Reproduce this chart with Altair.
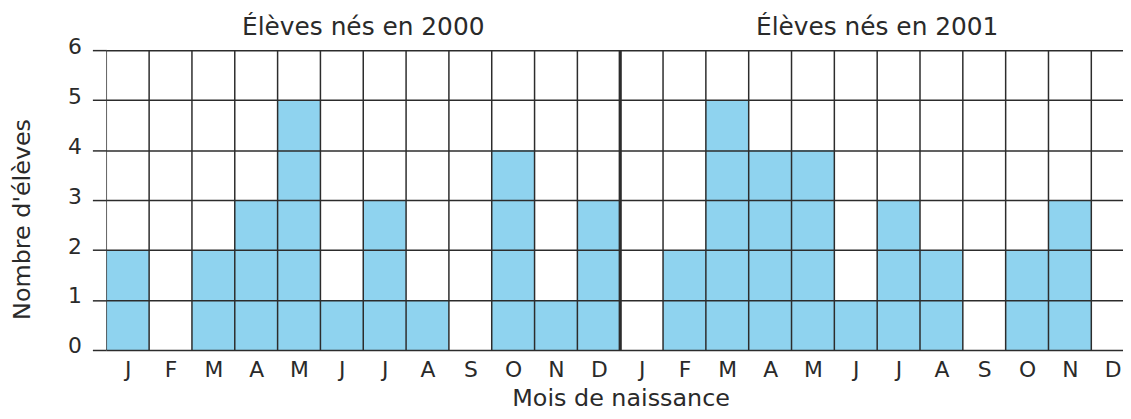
import json
import altair as alt
import pandas as pd

months = ["J", "F", "M", "A", "M", "J", "J", "A", "S", "O", "N", "D"]
years = ["2000", "2001"]
counts_2000 = [2, 0, 2, 3, 5, 1, 3, 1, 0, 4, 1, 3]
counts_2001 = [0, 2, 5, 4, 4, 1, 3, 2, 0, 2, 3, 0]
y_ticks = [0, 1, 2, 3, 4, 5, 6]

FONT = "DejaVu Sans"
TXT = "#2a2a2a"
GRID = "#2c2c2c"
BLUE = "#8fd3ef"

values = counts_2000 + counts_2001
n = len(values)
bars = pd.DataFrame({
    "i": list(range(n)),
    "i2": [k + 1 for k in range(n)],
    "v": values,
})
bounds = pd.DataFrame({"b": list(range(n + 1))})
heads = pd.DataFrame({
    "c": [len(months) * (k + 0.5) for k in range(len(years))],
    "t": ["Élèves nés en " + y for y in years],
})

label_list = json.dumps(months * len(years))
xscale = alt.Scale(domain=[0, 23.74], nice=False, zero=False)
yscale = alt.Scale(domain=[0, 6], nice=False)

x_axis = alt.Axis(
    values=[k + 0.5 for k in range(n)],
    labelExpr=f"{label_list}[floor(datum.value)]",
    grid=False, ticks=False, tickSize=0, domain=False,
    labelFont=FONT, labelFontSize=22, labelColor=TXT,
    labelBaseline="alphabetic", labelPadding=27, labelAngle=0,
    title="Mois de naissance", titleFont=FONT, titleFontSize=24,
    titleFontWeight="normal", titleColor=TXT,
    titleX=518, titleY=56, titleBaseline="alphabetic", titleAnchor="start",
    titleAlign="center",
)
y_axis = alt.Axis(
    values=y_ticks, grid=True, gridColor=GRID, gridWidth=1.5, gridOpacity=1,
    ticks=True, tickSize=14, tickColor=GRID, tickWidth=1.5,
    domain=False, zindex=1,
    labelFont=FONT, labelFontSize=22, labelColor=TXT, labelPadding=11,
    labelOffset=-4,
    title="Nombre d'élèves", titleFont=FONT, titleFontSize=24,
    titleFontWeight="normal", titleColor=TXT,
    titleX=-84, titleY=170, titleAngle=-90, titleBaseline="middle",
    titleAlign="center",
)

rects = alt.Chart(bars).mark_rect(color=BLUE, clip=True).encode(
    x=alt.X("i:Q", scale=xscale, axis=x_axis),
    x2="i2:Q",
    y=alt.Y("v:Q", scale=yscale, axis=y_axis),
    y2=alt.datum(0),
)

vlines = alt.Chart(bounds).mark_rule(color=GRID, clip=True).encode(
    x=alt.X("b:Q", scale=xscale),
    y=alt.datum(0),
    y2=alt.datum(6),
    strokeWidth=alt.condition(alt.datum.b == 12, alt.value(3.2), alt.value(1.5)),
)

titles = alt.Chart(heads).mark_text(
    font=FONT, fontSize=25, color=TXT, baseline="alphabetic", align="center"
).encode(
    x=alt.X("c:Q", scale=xscale),
    y=alt.value(-15),
    text="t:N",
)

chart = alt.layer(rects, vlines, titles).properties(
    width=1024, height=302,
    autosize=alt.AutoSizeParams(type="none"),
    padding={"left": 99, "top": 41, "right": 0, "bottom": 60},
    background="white",
).configure_view(stroke=None)

chart.save("out.html", embed_options={"renderer": "svg", "actions": False})
